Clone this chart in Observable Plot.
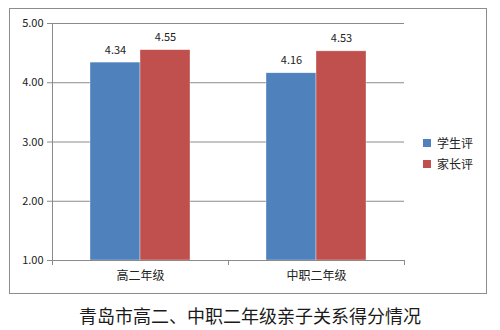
<!DOCTYPE html>
<html>
<head>
<meta charset="utf-8">
<script src="https://cdn.jsdelivr.net/npm/d3@7"></script>
<script src="https://cdn.jsdelivr.net/npm/@observablehq/plot@0.6"></script>
<style>
  html, body { margin: 0; padding: 0; background: #fff; }
  #wrap { position: relative; width: 500px; height: 330px; overflow: hidden;
          font-family: "Noto Sans CJK SC", "DejaVu Sans", sans-serif; }
  #box { position: absolute; left: 9px; top: 8px; width: 478px; height: 286px;
         border: 1px solid #8c8c8c; box-sizing: border-box; }
  #chart { position: absolute; left: 0; top: 0; }
  #legend { position: absolute; left: 423px; top: 132px; font-size: 12px; color: #222; }
  .li { display: flex; align-items: center; height: 21px; }
  .sw { width: 8px; height: 8px; margin-right: 6px; }
  #title { position: absolute; left: 0; width: 500px; top: 305px; text-align: center;
           font-size: 18px; color: #1a1a1a; line-height: 20px; }
</style>
</head>
<body>
<div id="wrap">
  <div id="box"></div>
  <div id="chart"></div>
  <div id="legend"></div>
  <div id="title">青岛市高二、中职二年级亲子关系得分情况</div>
</div>
<script>
const categories = ["高二年级", "中职二年级"];
const seriesNames = ["学生评", "家长评"];
const studentScores = [4.34, 4.16];
const parentScores = [4.55, 4.53];
const yTicks = [1, 2, 3, 4, 5];
const colors = ["#4F81BD", "#C0504D"];

const data = [];
categories.forEach((c, i) => {
  data.push({cat: c, series: seriesNames[0], value: studentScores[i]});
  data.push({cat: c, series: seriesNames[1], value: parentScores[i]});
});

const font = "'Noto Sans CJK SC', 'DejaVu Sans', sans-serif";

const plot = Plot.plot({
  width: 500,
  height: 300,
  marginLeft: 52,
  marginRight: 96,
  marginTop: 23,
  marginBottom: 40,
  style: {fontFamily: font, fontSize: "11px", color: "#222", background: "transparent"},
  fx: {domain: categories, padding: 0, label: null},
  x: {domain: seriesNames, paddingInner: 0, paddingOuter: 0.76, axis: null},
  y: {domain: [1, 5], label: null},
  color: {domain: seriesNames, range: colors},
  marks: [
    Plot.gridY(yTicks.slice(1), {stroke: "#8a8a8a", strokeOpacity: 1}),
    Plot.axisY({ticks: yTicks, tickFormat: d3.format(".2f"), tickSize: 5, tickPadding: 4,
                stroke: "#8a8a8a", label: null, fontSize: 11, facetAnchor: "left"}),
    Plot.axisFx({anchor: "bottom", tickSize: 0, tickPadding: 11, label: null, fontSize: 12}),
    Plot.barY(data, {fx: "cat", x: "series", y1: 1, y2: "value", fill: "series",
                     stroke: "#fff", strokeWidth: 0.6, strokeOpacity: 0.6}),
    Plot.text(data, {fx: "cat", x: "series", y: "value", text: d => d.value.toFixed(2),
                     lineAnchor: "bottom", dy: -9, fontSize: 11, fill: "#222"}),
    Plot.ruleY([1], {stroke: "#8a8a8a"})
  ]
});

// axis line and category boundary ticks, positioned from Plot's own scales
const fxs = plot.scale("fx");
const ys = plot.scale("y");
const bounds = fxs.domain.map(d => fxs.apply(d));
bounds.push(fxs.apply(fxs.domain[fxs.domain.length - 1]) + fxs.bandwidth);
const g = d3.select(plot).append("g").attr("stroke", "#8a8a8a");
g.append("line")
  .attr("x1", bounds[0] + 0.5).attr("x2", bounds[0] + 0.5)
  .attr("y1", ys.apply(5)).attr("y2", ys.apply(1) + 5);
bounds.forEach(b => {
  g.append("line").attr("x1", b + 0.5).attr("x2", b + 0.5)
    .attr("y1", ys.apply(1)).attr("y2", ys.apply(1) + 5);
});

document.getElementById("chart").append(plot);

const legend = d3.select("#legend");
seriesNames.forEach((s, i) => {
  const row = legend.append("div").attr("class", "li");
  row.append("div").attr("class", "sw").style("background", colors[i]);
  row.append("span").text(s);
});
</script>
</body>
</html>
